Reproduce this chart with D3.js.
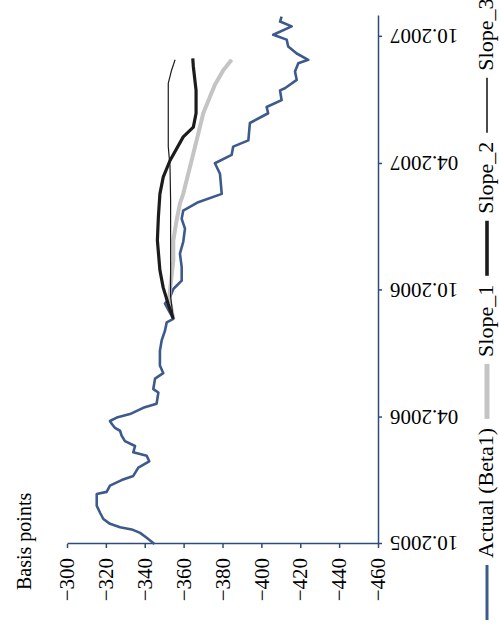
<!DOCTYPE html>
<html>
<head>
<meta charset="utf-8">
<script src="https://cdn.jsdelivr.net/npm/d3@7"></script>
<style>
  body { margin: 0; background: #fff; }
  svg { display: block; }
  text { font-family: "Liberation Serif", "DejaVu Serif", serif; fill: #000; }
</style>
</head>
<body>
<svg width="499" height="630"></svg>
<script>
// Actual (Beta1) series
const actualDates = [
  '2005-10-01','2005-10-10','2005-10-17','2005-10-22','2005-10-25','2005-10-30',
  '2005-11-06','2005-11-15','2005-11-25','2005-12-12','2005-12-15','2005-12-24',
  '2006-01-01','2006-01-07','2006-01-19','2006-01-28','2006-02-05','2006-02-10',
  '2006-02-19','2006-02-26','2006-03-06','2006-03-13','2006-03-17','2006-03-23',
  '2006-03-27','2006-04-01','2006-04-06','2006-04-15','2006-04-21','2006-05-07',
  '2006-05-12','2006-05-27','2006-06-04','2006-06-15','2006-07-06','2006-07-21',
  '2006-08-04','2006-08-16','2006-08-21','2006-09-12','2006-09-21','2006-10-03',
  '2006-10-15','2006-11-04','2006-11-23','2006-12-10','2006-12-29','2007-01-12',
  '2007-01-24','2007-02-05','2007-02-17','2007-03-18','2007-04-02','2007-04-14',
  '2007-04-26','2007-05-05','2007-05-30','2007-06-13','2007-06-22','2007-07-02',
  '2007-07-16','2007-07-19','2007-07-31','2007-08-12','2007-08-24','2007-08-29',
  '2007-09-07','2007-09-17','2007-09-27','2007-10-04','2007-10-16','2007-10-23',
  '2007-10-30'
]
const actualValues = [
  -345, -341, -337.6, -333.3, -327.3, -322.1,
  -318.7, -317, -315.3, -315.3, -320.4, -322.1,
  -328.1, -334.1, -336.7, -342.3, -341, -334.1,
  -335, -329.8, -328.1, -327.3, -324.7, -323,
  -322.1, -325.6, -332.4, -339.2, -346.1, -347,
  -344.4, -345.3, -349.5, -347.8, -347.8, -348.7,
  -350.4, -351.3, -354.7, -350.4, -353, -354.7,
  -359, -359, -358.1, -359.8, -360.7, -359,
  -359.8, -367.5, -379.6, -378.7, -376.1, -384.7,
  -385.5, -393.3, -394.1, -403.5, -402.7, -410.4,
  -409.6, -412.1, -418.2, -417.3, -419, -424.1,
  -418.2, -413.8, -413, -406.1, -415.6, -409.6,
  -410.4
]

// Slope_1 (grey)
const slope1Dates = ['2006-08-21','2006-09-21','2006-11-13','2006-12-12','2007-01-10','2007-02-03',
  '2007-02-17','2007-04-06','2007-05-05','2007-06-13','2007-07-07','2007-07-24','2007-08-14','2007-08-29']
const slope1Values = [-354.7, -352.6, -354.7, -354.7, -356.4, -358.1,
  -359.8, -364.1, -366.7, -370.1, -373.6, -376.1, -380.4, -384.7]

// Slope_2 (thick black)
const slope2Dates = ['2006-08-21','2006-09-11','2006-10-05','2006-10-30','2006-12-12','2007-01-14',
  '2007-02-17','2007-03-13','2007-04-06','2007-05-10','2007-05-24','2007-06-13','2007-07-16',
  '2007-08-19','2007-08-31']
const slope2Values = [-354.7, -352.1, -349.5, -347.8, -346.5, -347,
  -347.8, -349.5, -353, -359.8, -365, -366.4, -366.4,
  -365, -364.7]

// Slope_3 (thin black)
const slope3Dates = ['2006-08-21','2006-09-22','2007-02-08','2007-03-28','2007-04-26','2007-07-26',
  '2007-08-14','2007-08-29']
const slope3Values = [-354.7, -353.3, -353.3, -353, -352.1, -352.1, -353.8, -355.6]

const yTicks = [-300, -320, -340, -360, -380, -400, -420, -440, -460]
const xTicks = ['2005-10-01', '2006-04-01', '2006-10-01', '2007-04-01', '2007-10-01']
const legendNames = ['Actual (Beta1)', 'Slope_1', 'Slope_2', 'Slope_3']

const parse = d3.timeParse('%Y-%m-%d')

const svg = d3.select('svg')
const width = +svg.attr('width')
const height = +svg.attr('height')

// The whole chart is drawn upright on a 630 x 499 sheet and then turned
// a quarter turn anticlockwise, as in the picture
const W = height
const H = width
const chart = svg
  .append('g')
    .attr('transform', `translate(0, ${W}) rotate(-90)`)

const axisColor = '#2f4b7c'
const colors = ['#3d5a8c', '#c4c4c4', '#1c1c1c', '#1c1c1c']
const widths = [2.6, 4, 3.2, 1.2]

const x = d3.scaleTime()
  .domain([parse('2005-10-01'), parse('2007-10-31')])
  .range([86, 614])

const y = d3.scaleLinear()
  .domain([-300, -460])
  .range([67, 378])

// y axis (basis points)
const yAxisG = chart.append('g')
  .attr('transform', `translate(86, 0)`)
  .call(d3.axisLeft(y).tickValues(yTicks).tickSize(4).tickSizeOuter(0).tickPadding(10))
yAxisG.selectAll('path, line').attr('stroke', axisColor).attr('stroke-width', 1.5)
yAxisG.selectAll('text')
  .style('font-size', '21px')
  .attr('fill', '#000')

// x axis (dates), labels turned like the original
const xAxisG = chart.append('g')
  .attr('transform', `translate(0, 378)`)
  .call(d3.axisBottom(x).tickValues(xTicks.map(parse)).tickSize(4).tickSizeOuter(0)
    .tickFormat(d3.timeFormat('%m.%Y')))
xAxisG.selectAll('path, line').attr('stroke', axisColor).attr('stroke-width', 1.5)
xAxisG.selectAll('text')
  .style('font-size', '21px')
  .attr('fill', '#000')
  .attr('transform', 'rotate(-90)')
  .attr('text-anchor', 'end')
  .attr('x', -12)
  .attr('y', 0)
  .attr('dy', '0.35em')

chart.append('text')
  .attr('x', 40)
  .attr('y', 31)
  .style('font-size', '20px')
  .text('Basis points')

// lines
const line = d3.line()
  .x(d => x(d[0]))
  .y(d => y(d[1]))

const series = [
  d3.zip(actualDates.map(parse), actualValues),
  d3.zip(slope1Dates.map(parse), slope1Values),
  d3.zip(slope2Dates.map(parse), slope2Values),
  d3.zip(slope3Dates.map(parse), slope3Values)
]

// draw the actual series first, then grey, thin and thick black on top
const order = [0, 1, 3, 2]
order.forEach(i => {
  chart.append('path')
    .attr('d', line(series[i]))
    .attr('fill', 'none')
    .attr('stroke', colors[i])
    .attr('stroke-width', widths[i])
    .attr('stroke-linejoin', 'round')
})

// legend along the bottom of the upright sheet
const legendG = chart.append('g')
  .attr('transform', `translate(0, 487)`)
let cursor = 10
legendNames.forEach((name, i) => {
  legendG.append('line')
    .attr('x1', cursor)
    .attr('x2', cursor + 55)
    .attr('stroke', colors[i])
    .attr('stroke-width', i === 1 ? 5 : widths[i] + 0.4)
  const t = legendG.append('text')
    .attr('x', cursor + 62)
    .attr('y', 6)
    .style('font-size', '22px')
    .text(name)
  cursor += 62 + t.node().getComputedTextLength() + 9
})
</script>
</body>
</html>
